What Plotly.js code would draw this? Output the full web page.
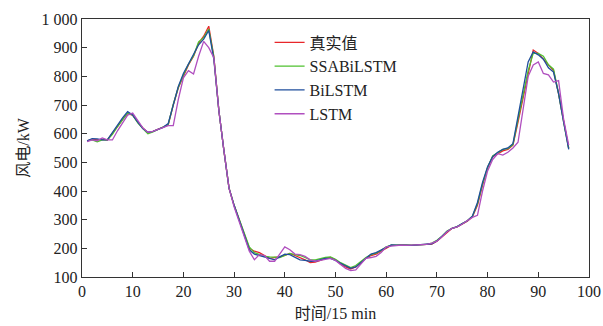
<!DOCTYPE html>
<html><head><meta charset="utf-8">
<script src="https://cdn.plot.ly/plotly-3.0.1.min.js"></script>
<style>html,body{margin:0;padding:0;background:#fff}#c{width:603px;height:326px}</style>
</head><body><div id="c"></div>
<script>
const xs = Array.from({length:96},(_,i)=>i+1);
const real = [575,580,578,580,578,600,625,650,670,665,640,620,603,608,615,622,630,700,760,800,840,870,915,940,975,870,680,540,410,350,300,250,200,190,185,175,165,168,170,175,182,175,168,160,150,152,158,165,168,160,145,135,128,135,150,165,175,180,190,200,210,210,212,211,210,212,213,213,215,225,240,258,270,275,285,295,310,350,420,480,520,530,540,545,560,640,720,800,892,880,860,840,820,740,640,550];
const ssa  = [575,578,572,578,578,598,625,650,672,665,638,618,600,606,614,622,632,702,762,805,842,872,920,935,965,868,680,540,410,350,300,250,205,185,178,172,170,170,168,175,182,178,175,168,160,160,165,168,170,162,150,140,133,140,155,168,178,183,193,205,211,211,212,211,210,212,213,214,218,228,242,260,270,276,286,296,312,355,425,482,522,535,545,548,562,650,740,820,880,880,870,840,825,740,640,548];
const bil  = [575,583,582,578,578,605,630,655,677,665,640,618,605,608,615,622,635,700,765,810,845,875,910,930,960,860,680,540,410,350,300,250,195,180,175,170,165,160,170,180,178,168,160,158,155,155,160,165,165,158,148,138,130,135,150,165,180,185,195,205,212,211,212,211,210,212,213,214,216,226,241,259,270,276,286,296,312,360,430,485,520,535,545,550,565,660,760,850,885,875,860,830,815,740,640,545];
const lstm = [572,578,575,585,578,578,610,640,665,672,645,620,605,608,615,622,628,628,720,795,820,808,870,922,900,865,680,540,410,345,295,245,190,160,178,175,155,155,180,205,195,180,178,172,160,155,158,162,165,158,145,130,122,125,145,165,168,172,185,205,208,210,211,210,210,212,213,214,218,225,240,258,270,275,285,295,308,315,400,470,510,530,525,535,550,570,680,800,840,850,810,805,780,785,650,560];
const names = ['真实值','SSABiLSTM','BiLSTM','LSTM'];
const colors = ['#e8262a','#4fc12f','#1f4e9c','#b04fbf'];
const series = [real, ssa, bil, lstm];
const yTicks = [100,200,300,400,500,600,700,800,900,1000];
const yTickText = ['100','200','300','400','500','600','700','800','900','1 000'];
const xTicks = [0,10,20,30,40,50,60,70,80,90,100];
const traces = series.map((s,i)=>({x:xs,y:s,type:'scatter',mode:'lines',name:names[i],line:{color:colors[i],width:1.3}}));
const font = "'Liberation Serif', 'Times New Roman', 'Noto Sans CJK SC', serif";
const layout = {
  width:603,height:326,
  margin:{l:82,r:14,t:19,b:49},
  paper_bgcolor:'#fff',plot_bgcolor:'#fff',
  font:{family:font,size:16,color:'#222'},
  showlegend:true,
  legend:{x:0.37,y:0.975,xanchor:'left',yanchor:'top',bgcolor:'rgba(0,0,0,0)',font:{family:font,size:16,color:'#222'},tracegroupgap:0,itemwidth:30},
  xaxis:{range:[0,100],tickvals:xTicks,ticks:'inside',ticklen:5,tickcolor:'#333',showgrid:false,zeroline:false,showline:true,linecolor:'#333',linewidth:1.2,mirror:true,
    title:{text:'时间/15 min',font:{family:font,size:16},standoff:8},tickfont:{family:font,size:16}},
  yaxis:{range:[100,1000],tickvals:yTicks,ticktext:yTickText,ticks:'inside',ticklen:5,tickcolor:'#333',showgrid:false,zeroline:false,showline:true,linecolor:'#333',linewidth:1.2,mirror:true,
    title:{text:'风电/kW',font:{family:font,size:16},standoff:8},tickfont:{family:font,size:16}}
};
Plotly.newPlot('c',traces,layout,{displayModeBar:false,staticPlot:true});
</script></body></html>
